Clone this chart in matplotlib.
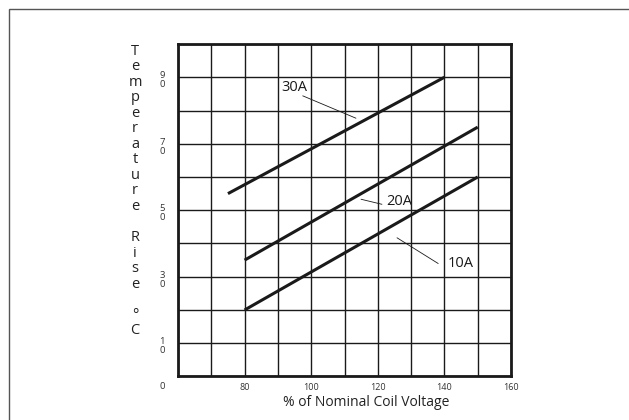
import matplotlib
matplotlib.use("Agg")
import matplotlib.pyplot as plt
from matplotlib.patches import Rectangle
from matplotlib.transforms import blended_transform_factory

plt.rcParams["font.family"] = ["Open Sans", "DejaVu Sans"]

# curves: (start voltage %, start rise), (end voltage %, end rise)
curve_names = ["30A", "20A", "10A"]
curve_x = [[75, 140], [80, 150], [80, 150]]
curve_y = [[55, 90], [35, 75], [20, 60]]

# label text position and leader line (from, to) in data units
label_pos = [(95, 87), (126.5, 52.5), (145, 34)]
leader_from = [(97.5, 84.4), (115, 53.3), (125.8, 41.7)]
leader_to = [(113.4, 77.7), (121.2, 51.8), (138.1, 34.0)]

x_grid = list(range(60, 161, 10))
x_labels = ["", "", "80", "", "100", "", "120", "", "140", "", "160"]
y_grid = list(range(0, 101, 10))
y_label_vals = [10, 30, 50, 70, 90]
y_label_text = ["1\n0", "3\n0", "5\n0", "7\n0", "9\n0"]

fig = plt.figure(figsize=(6.29, 4.2), dpi=100)
ax = fig.add_axes([0.283, 0.1036, 0.5294, 0.7916])

# outer frame
fig.patches.append(Rectangle((9 / 629, -0.1), 1.2, 1 - 9 / 420 + 0.1,
                             transform=fig.transFigure, fill=False,
                             edgecolor="#555555", linewidth=1.0))

for xs, ys in zip(curve_x, curve_y):
    ax.plot(xs, ys, color="#1a1a1a", linewidth=2.2, solid_capstyle="butt", zorder=3)

for name, pos, p0, p1 in zip(curve_names, label_pos, leader_from, leader_to):
    ax.plot([p0[0], p1[0]], [p0[1], p1[1]], color="#1a1a1a", linewidth=0.6, zorder=3)
    ax.text(pos[0], pos[1], name, fontsize=10.5, ha="center", va="center",
            color="#1a1a1a", zorder=4)

ax.set_xlim(60, 160)
ax.set_ylim(0, 100)
ax.set_xticks(x_grid, labels=x_labels)
ax.set_yticks(y_grid, labels=[""] * len(y_grid))
ax.grid(True, color="#1a1a1a", linewidth=1.0)
ax.set_axisbelow(True)
ax.tick_params(axis="both", length=0, labelsize=6.5, colors="#333333")
ax.tick_params(axis="x", pad=5)
for sp in ax.spines.values():
    sp.set_linewidth(2.0)
    sp.set_color("#1a1a1a")

# stacked y tick labels
ytrans = blended_transform_factory(ax.transAxes, ax.transData)
for val, txt in zip(y_label_vals, y_label_text):
    ax.text(-16 / 333, val - 0.9, txt, transform=ytrans, fontsize=6.8,
            color="#333333", ha="center", va="center", linespacing=1.05,
            clip_on=False)

# zero label at the corner
ax.text(-16 / 333, -0.030, "0", transform=ax.transAxes, fontsize=6.8,
        color="#333333", ha="center", va="center", clip_on=False)

ax.set_xlabel("% of Nominal Coil Voltage", fontsize=10, color="#222222")
ax.xaxis.set_label_coords(0.565, -0.056)

ylabel = "\n".join("Temperature") + "\n\n" + "\n".join("Rise") + "\n\n°\nC"
fig.text(135 / 629, 1 - 191 / 420, ylabel, fontsize=10.5, ha="center", va="center",
         linespacing=1.05, color="#222222")

fig.savefig("out.png", dpi=100)
